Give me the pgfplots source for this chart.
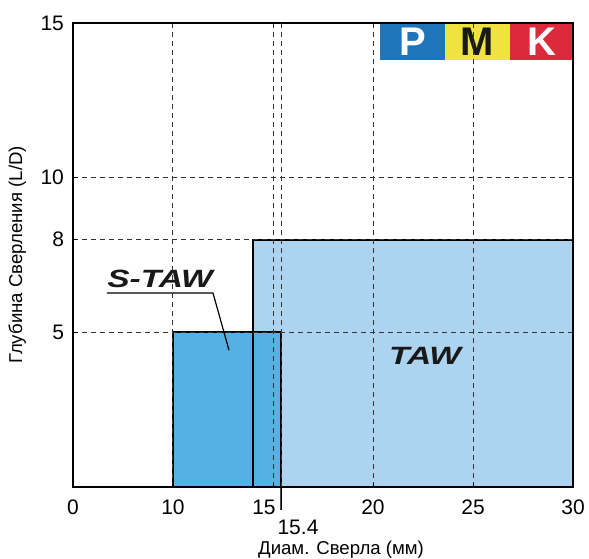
\documentclass[border=0pt]{standalone}
\usepackage{fontspec}
\setmainfont{Liberation Sans}
\usepackage{pgfplots}
\pgfplotsset{compat=1.18}
\definecolor{tawfill}{HTML}{ACD4F0}
\definecolor{stawfill}{HTML}{55B0E3}
\definecolor{pblue}{HTML}{2075B8}
\definecolor{myellow}{HTML}{F0E33F}
\definecolor{kred}{HTML}{DA2A3B}
\definecolor{gridc}{HTML}{333333}
\begin{document}
\begin{tikzpicture}
\begin{axis}[
  scale only axis, width=250pt, height=232pt,
  xmin=0, xmax=30, ymin=0, ymax=15,
  clip=false,
  x coord trafo/.code={\pgfmathparse{#1<10 ? #1/2 : #1-5}},
  x coord inv trafo/.code={\pgfmathparse{#1<5 ? #1*2 : #1+5}},
  xtick={0,10,15,20,25,30},
  xticklabels={0,10,{\hspace*{-9pt}15},20,25,30},
  ytick={5,8,10,15},
  xtick pos=bottom, ytick pos=left,
  extra x ticks={15.4}, extra x tick labels={15.4},
  extra x tick style={grid=major, tick align=outside, major tick length=11.5pt,
     tick style={black, line width=0.5pt},
     tick label style={yshift=1.5pt, xshift=8.5pt}},
  grid=major,
  major grid style={gridc, line width=0.5pt, dash pattern=on 2.5pt off 2pt},
  tick align=inside, major tick length=2pt,
  tick style={black, line width=0.5pt},
  axis line style={black, line width=0.8pt},
  axis on top,
  /pgf/number format/assume math mode=true,
  tick label style={font=\fontsize{10.5}{12}\selectfont},
  yticklabel style={xshift=-1pt},
  xticklabel style={yshift=-3pt},
  xlabel={Диам. Сверла (мм)},
  ylabel={Глубина Сверления (L/D)},
  label style={font=\fontsize{9.3}{11}\selectfont},
  xlabel style={at={(axis description cs:0.536,0)}, anchor=north, yshift=-23.5pt},
  ylabel style={at={(axis description cs:0,0.5)}, anchor=south, yshift=20pt},
]
% TAW region (diameter 14-30 mm, L/D up to 8)
\addplot[fill=tawfill, draw=none] coordinates {(14,0) (14,8) (30,8) (30,0)} -- cycle;
% S-TAW region (diameter 10-15.4 mm, L/D up to 5)
\addplot[fill=stawfill, draw=none] coordinates {(10,0) (10,5) (15.4,5) (15.4,0)} -- cycle;
\addplot[black, line width=1pt] coordinates {(14,0) (14,8) (30,8)};
\addplot[black, line width=1pt] coordinates {(10,0) (10,5) (15.4,5) (15.4,0)};

% long tick below the axis at 15.4 mm
\draw[black!70, line width=0.6pt] (rel axis cs:0.416,0) -- ++(0,-11.5pt);

% P M K badge
\fill[pblue] (rel axis cs:0.614,0.920) rectangle (rel axis cs:0.744,1);
\fill[myellow] (rel axis cs:0.744,0.920) rectangle (rel axis cs:0.874,1);
\fill[kred] (rel axis cs:0.874,0.920) rectangle (rel axis cs:1,1);
\node[font=\fontsize{20}{22}\bfseries\selectfont, white] at (rel axis cs:0.679,0.960) {P};
\node[font=\fontsize{20}{22}\bfseries\selectfont, black!90] at (rel axis cs:0.809,0.960) {M};
\node[font=\fontsize{20}{22}\bfseries\selectfont, white] at (rel axis cs:0.937,0.960) {K};

% labels
\node[font=\fontsize{12.5}{15}\bfseries\itshape\selectfont, black!90] at (rel axis cs:0.174,0.448) {\scalebox{1.34}[1]{S-TAW}};
\draw[black, line width=0.6pt] (rel axis cs:0.068,0.418) -- (rel axis cs:0.280,0.418) -- (rel axis cs:0.312,0.295);
\node[font=\fontsize{12.5}{15}\bfseries\itshape\selectfont, black!90] at (rel axis cs:0.704,0.282) {\scalebox{1.34}[1]{TAW}};
\end{axis}
\pgfresetboundingbox
\path[use as bounding box] ([xshift=-36.5pt,yshift=-35.5pt]current axis.south west) rectangle ([xshift=8pt,yshift=11.5pt]current axis.north east);
\end{tikzpicture}
\end{document}
